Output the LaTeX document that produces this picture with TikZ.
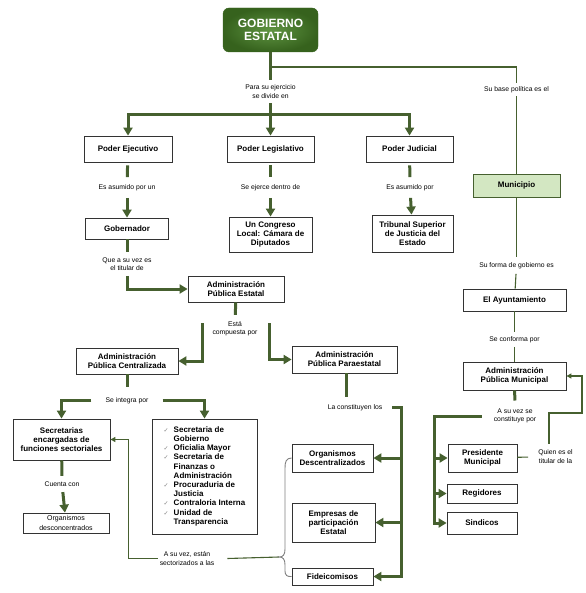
\documentclass[tikz,border=0pt]{standalone}
\usepackage{fontspec}
\setmainfont{Liberation Sans}
\newfontfamily\checkfont{DejaVu Sans}
\usetikzlibrary{arrows.meta, calc}

\definecolor{olivo}{HTML}{46602F}
\definecolor{verdeosc}{HTML}{36621D}
\definecolor{verdecla}{HTML}{5F9442}
\definecolor{verdemun}{HTML}{D3E7C2}
\definecolor{borde}{HTML}{333333}

\newcommand{\chk}{{\checkfont\fontsize{6}{6}\selectfont\color{gray}✓}}

\begin{document}
\begin{tikzpicture}[x=1pt, y=-1pt,
                box/.style={draw=borde, line width=0.8pt, fill=white, align=center,
                    font=\bfseries\fontsize{8}{9.2}\selectfont, inner sep=1pt},
                lbl/.style={align=center, font=\fontsize{6.8}{8.5}\selectfont,
                    inner xsep=2pt, inner ysep=5pt},
                thickline/.style={draw=olivo, line width=3pt},
                thick arrow/.style={thickline, -{Triangle[width=9pt, length=8pt]}},
                thinline/.style={draw=olivo, line width=1.1pt},
                thin arrow/.style={thinline, -{Triangle[width=5pt, length=5pt]}}
            ]

            \useasboundingbox (0,0) rectangle (585,593);

            % cabeza
            \node[draw=verdeosc, rounded corners=6pt, inner color=verdecla, outer color=verdeosc,
                text=white, font=\bfseries\fontsize{12}{13}\selectfont, align=center,
                minimum width=95pt, minimum height=44pt] (gob) at (270.5,30) {GOBIERNO\\ESTATAL};

            % poderes
            \node[box, minimum width=88pt, minimum height=26pt] (ejec) at (128,149) {Poder Ejecutivo};
            \node[box, minimum width=87pt, minimum height=26pt] (legis) at (270.5,149) {Poder Legislativo};
            \node[box, minimum width=87pt, minimum height=26pt] (judic) at (409.5,149) {Poder Judicial};
            \node[box, draw=olivo, fill=verdemun, minimum width=87pt, minimum height=23pt] (munic) at (516.5,185.5) {Municipio};

            \node[box, minimum width=83pt, minimum height=21pt] (gobern) at (127,228.5) {Gobernador};
            \node[box, minimum width=83pt, minimum height=35pt] (congreso) at (270.5,234.5) {Un Congreso\\Local: Cámara de\\Diputados};
            \node[box, minimum width=81pt, minimum height=37pt] (tribunal) at (412.5,233.5) {Tribunal Superior\\de Justicia del\\Estado};
            \node[box, minimum width=103pt, minimum height=22pt] (ayunt) at (514.5,300) {El Ayuntamiento};
            \node[box, minimum width=103pt, minimum height=28pt] (apmun) at (514.5,376) {Administración\\Pública Municipal};

            \node[box, minimum width=96pt, minimum height=26pt] (apest) at (236,289) {Administración\\Pública Estatal};
            \node[box, minimum width=102pt, minimum height=26pt] (apcen) at (127,361) {Administración\\Pública Centralizada};
            \node[box, minimum width=105pt, minimum height=27pt] (appar) at (344.5,359.5) {Administración\\Pública Paraestatal};

            \node[box, minimum width=97pt, minimum height=41pt] (secret) at (61.5,439.5) {Secretarias\\encargadas de\\funciones sectoriales};
            \node[box, font=\fontsize{7}{9.2}\selectfont, minimum width=86pt, minimum height=20pt] (orgdes) at (66,523) {Organismos\\desconcentrados};
            \node[box, minimum width=105pt, minimum height=115pt] (lista) at (204.5,476.5) {%
                \begin{tabular}{@{}l@{\hspace{5pt}}l@{}}
                \chk & Secretaria de\\
                     & Gobierno\\
                \chk & Oficialia Mayor\\
                \chk & Secretaria de\\
                     & Finanzas o\\
                     & Administración\\
                \chk & Procuraduria de\\
                     & Justicia\\
                \chk & Contraloria Interna\\
                \chk & Unidad de\\
                     & Transparencia
                \end{tabular}};

            \node[box, minimum width=81pt, minimum height=28pt] (orgdesc) at (332.5,458) {Organismos\\Descentralizados};
            \node[box, minimum width=83pt, minimum height=39pt] (empresas) at (333.5,522.5) {Empresas de\\participación\\Estatal};
            \node[box, minimum width=81pt, minimum height=17pt] (fideic) at (332.5,576.5) {Fideicomisos};

            \node[box, minimum width=69pt, minimum height=28pt] (presid) at (482.5,458) {Presidente\\Municipal};
            \node[box, minimum width=70pt, minimum height=19pt] (regid) at (482,493.5) {Regidores};
            \node[box, minimum width=70pt, minimum height=22pt] (sindic) at (482,523) {Sindicos};

            % textos de enlace
            \node[lbl] (l1) at (270.5,91.5) {Para su ejercicio\\se divide en};
            \node[lbl, inner ysep=3.5pt] (l2) at (516.5,89.5) {Su base política es el};
            \node[lbl, inner ysep=7pt] (l3) at (127,187.5) {Es asumido por un};
            \node[lbl, inner ysep=7pt] (l4) at (270.5,187.5) {Se ejerce dentro de};
            \node[lbl, inner ysep=7pt] (l5) at (410,187.5) {Es asumido por};
            \node[lbl] (l6) at (127,264) {Que a su vez es\\el titular de};
            \node[lbl] (l7) at (516.5,265.5) {Su forma de gobierno es};
            \node[lbl, inner ysep=4pt] (l8) at (514.5,339.5) {Se conforma por};
            \node[lbl, inner ysep=6pt] (l9) at (235,328.5) {Está\\compuesta por};
            \node[lbl, inner xsep=14pt, inner ysep=10pt] (l10) at (127,400.5) {Se integra por};
            \node[lbl, inner ysep=5.5pt] (l11) at (62,484) {Cuenta con};
            \node[lbl, inner xsep=10pt, inner ysep=7pt] (l12) at (355,407.5) {La constituyen los};
            \node[lbl, inner xsep=12pt, inner ysep=8pt] (l13) at (515,416) {A su vez se\\constituye por};
            \node[lbl, inner xsep=10pt, inner ysep=6pt] (l14) at (555.5,456.5) {Quien es el\\titular de la};
            \node[lbl] (l15) at (187,558.5) {A su vez, están\\sectorizados a las};

            \coordinate (bar) at (270.5,115);
            \coordinate (split) at (270.5,67);
            \coordinate (forkL) at (202,323);
            \coordinate (forkR) at (269,323);
            \coordinate (spineP) at (401,407.5);
            \coordinate (spineM) at (434,416);
            \coordinate (turnM) at (582,413);
            \coordinate (bracetip) at (279,557);

            % gobierno -> poderes
            \draw[thickline] (gob) -- (l1);
            \draw[thickline] (l1) -- (bar);
            \draw[thick arrow] (bar) -- (legis);
            \draw[thick arrow] (bar) -| (ejec);
            \draw[thick arrow] (bar) -| (judic);
            \draw[thinline] (split) -| (l2.north);
            \draw[thinline] (l2) -- (munic);

            \draw[thickline, shorten <=3pt] (ejec) -- (l3);
            \draw[thick arrow] (l3) -- (gobern);
            \draw[thickline, shorten <=3pt] (legis) -- (l4);
            \draw[thick arrow] (l4) -- (congreso);
            \draw[thickline, shorten <=3pt] (judic) -- (l5);
            \draw[thick arrow] (l5) -- (tribunal);

            \draw[thinline] (munic) -- (l7);
            \draw[thinline] (l7) -- (ayunt);
            \draw[thinline] (ayunt) -- (l8);
            \draw[thinline] (l8) -- (apmun);

            % administracion estatal
            \draw[thickline] (gobern) -- (l6);
            \draw[thick arrow] (l6) |- (apest);
            \draw[thickline] (apest) -- (l9);
            \draw[thick arrow] (forkL) |- (apcen);
            \draw[thick arrow] (forkR) |- (appar);

            \draw[thickline] (apcen) -- (l10);
            \draw[thick arrow] (l10.west) -| (secret);
            \draw[thick arrow] (l10.east) -| (lista);
            \draw[thickline] (secret) -- (l11);
            \draw[thick arrow] (l11) -- (orgdes);

            \draw[thickline] (appar.south -| 346.5,0) -- (l12.north -| 346.5,0);
            \draw[thick arrow] (l12.east) -- (spineP) |- (fideic);
            \draw[thick arrow] (spineP |- orgdesc) -- (orgdesc);
            \draw[thick arrow] (spineP |- empresas) -- (empresas);

            % municipio
            \draw[thickline] (apmun) -- (l13);
            \draw[thick arrow] (l13.west) -- (spineM) |- (sindic);
            \draw[thick arrow] (spineM |- presid) -- (presid);
            \draw[thick arrow] (spineM |- regid) -- (regid);
            \draw[thinline] (presid) -- (l14);
            \draw[thin arrow] ([xshift=-6.5pt]l14.north) |- (turnM) |- (apmun);

            % sectorizados
            \draw[thin arrow] (l15.west) -| ([xshift=18pt]secret.east) -- (secret);
            \draw[thinline] ([xshift=11pt]l15.east) -- (bracetip);
            \draw[gray, line width=0.9pt] (orgdesc.west) .. controls (286,458) and (285,462) .. (285,468)
                -- (285,549) .. controls (285,555) and (283,557) .. (bracetip)
                .. controls (283,557) and (285,559) .. (285,565)
                -- (285,571) .. controls (285,575) and (287,577) .. (fideic.west);
        \end{tikzpicture}
\end{document}
